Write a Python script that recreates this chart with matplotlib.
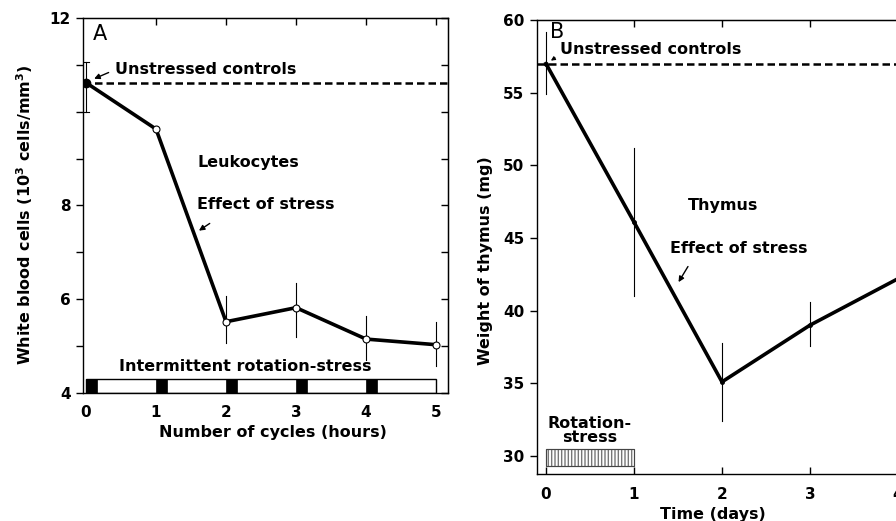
import matplotlib
matplotlib.use("Agg")
import matplotlib.pyplot as plt
from matplotlib.patches import Rectangle

# ---------------- data ----------------
# Panel A: leukocytes
cycles = [0, 1, 2, 3, 4, 5]
wbc = [10.62, 9.63, 5.52, 5.82, 5.15, 5.03]
wbc_err_lo = [10.0, 9.63, 5.07, 5.2, 4.7, 4.58]
wbc_err_hi = [11.06, 9.63, 6.07, 6.35, 5.65, 5.52]
wbc_control = 10.62
stress_starts = [0, 1, 2, 3, 4]
a_yticks = [4, 5, 6, 7, 8, 9, 10, 11, 12]
a_yticklabels = ["4", "", "6", "", "8", "", "", "", "12"]
a_xticks = [0, 1, 2, 3, 4, 5]

# Panel B: thymus
days = [0, 1, 2, 3, 4]
thymus = [57.0, 46.1, 35.1, 39.0, 42.2]
thy_err_lo = [54.9, 41.0, 32.4, 37.6, 42.2]
thy_err_hi = [59.2, 51.2, 37.8, 40.6, 42.2]
thy_control = 57.0
b_yticks = [30, 35, 40, 45, 50, 55, 60]
b_xticks = [0, 1, 2, 3, 4]

FONT = "DejaVu Sans"
plt.rcParams["font.family"] = FONT
plt.rcParams["font.weight"] = "bold"
FS = 11.5
TFS = 11

fig = plt.figure(figsize=(8.96, 5.21), dpi=100)

# ---------------- Panel A ----------------
axA = fig.add_axes([0.0926, 0.2457, 0.4074, 0.7198])
axA.set_xlim(-0.043, 5.17)
axA.set_ylim(4, 12)

# stress bar
axA.add_patch(Rectangle((0, 4.0), 5, 0.3, facecolor="white", edgecolor="k",
                        lw=1.0, zorder=2))
for s in stress_starts:
    axA.add_patch(Rectangle((s, 4.0), 0.16, 0.3, facecolor="k", edgecolor="k",
                            lw=0.5, zorder=3))

axA.axhline(wbc_control, color="k", lw=1.8, linestyle=(0, (3.0, 1.6)), zorder=3)
for i, x in enumerate(cycles):
    axA.plot([x, x], [wbc_err_lo[i], wbc_err_hi[i]], color="k", lw=0.8, zorder=4)
axA.plot([cycles[0] - 0.04, cycles[0] + 0.04], [wbc_err_lo[0]] * 2, color="k", lw=0.8)
axA.plot([cycles[0] - 0.04, cycles[0] + 0.04], [wbc_err_hi[0]] * 2, color="k", lw=0.8)
axA.plot(cycles, wbc, color="k", lw=2.6, zorder=5)
axA.plot(cycles[1:], wbc[1:], linestyle="none", marker="o", ms=5, mfc="white",
         mec="k", mew=0.8, zorder=6)
axA.plot(cycles[:1], wbc[:1], linestyle="none", marker="o", ms=6, mfc="k",
         mec="k", zorder=6)

txt = dict(fontsize=FS, fontweight="bold", family=FONT)
axA.text(0.1, 11.66, "A", fontsize=15, fontweight="normal", va="center", ha="left")
axA.text(0.41, 10.9, "Unstressed controls", va="center", ha="left", **txt)
axA.annotate("", xy=(0.08, 10.68), xytext=(0.36, 10.86),
             arrowprops=dict(arrowstyle="-|>", lw=1.0, color="k", mutation_scale=8))
axA.text(1.59, 8.92, "Leukocytes", va="center", ha="left", **txt)
axA.text(1.59, 8.02, "Effect of stress", va="center", ha="left", **txt)
axA.annotate("", xy=(1.58, 7.43), xytext=(1.8, 7.65),
             arrowprops=dict(arrowstyle="-|>", lw=1.0, color="k", mutation_scale=8))
axA.text(2.27, 4.56, "Intermittent rotation-stress", va="center", ha="center", **txt)

axA.set_yticks(a_yticks)
axA.set_yticklabels(a_yticklabels)
axA.set_xticks(a_xticks)
axA.tick_params(axis="y", direction="out", length=5, width=1, labelsize=TFS, pad=4)
axA.tick_params(axis="x", direction="out", length=0, labelsize=TFS, pad=9)
for lab in axA.get_xticklabels() + axA.get_yticklabels():
    lab.set_fontweight("bold")
secA_r = axA.secondary_yaxis("right")
secA_r.set_yticks(a_yticks)
secA_r.tick_params(direction="in", length=5, width=1, labelright=False)
secA_t = axA.secondary_xaxis("top")
secA_t.set_xticks(a_xticks[1:])
secA_t.tick_params(direction="in", length=5, width=1, labeltop=False)
for sp in axA.spines.values():
    sp.set_linewidth(1.0)

fig.text(25 / 896, 0.589, "White blood cells (10$^3$ cells/mm$^3$)", rotation=90,
         ha="center", va="center", fontsize=FS, fontweight="bold")
fig.text(0.305, 0.169, "Number of cycles (hours)", ha="center", va="center",
         fontsize=FS, fontweight="bold")

# ---------------- Panel B ----------------
axB = fig.add_axes([0.5993, 0.0902, 0.4324, 0.8714])
axB.set_xlim(-0.102, 4.3)
axB.set_ylim(28.76, 60)

axB.add_patch(Rectangle((0, 29.3), 1, 1.2, facecolor="white", edgecolor="#777777",
                        hatch="|||||", lw=0.8, zorder=2))
axB.add_patch(Rectangle((0, 29.3), 1, 1.2, facecolor="none", edgecolor="#444444",
                        lw=0.8, zorder=3))
axB.axhline(thy_control, color="k", lw=1.8, linestyle=(0, (3.0, 1.6)), zorder=3)
for i, x in enumerate(days):
    axB.plot([x, x], [thy_err_lo[i], thy_err_hi[i]], color="k", lw=0.8, zorder=4)
axB.plot(days, thymus, color="k", lw=2.6, zorder=5)
axB.plot(days, thymus, linestyle="none", marker="o", ms=2.5, mfc="k", mec="k", zorder=6)

axB.text(0.05, 59.17, "B", fontsize=15, fontweight="normal", va="center", ha="left")
axB.text(0.16, 58.0, "Unstressed controls", va="center", ha="left", **txt)
axB.annotate("", xy=(0.03, 57.1), xytext=(0.13, 57.5),
             arrowprops=dict(arrowstyle="-|>", lw=0.8, color="k", mutation_scale=6))
axB.text(1.61, 47.27, "Thymus", va="center", ha="left", **txt)
axB.text(1.41, 44.3, "Effect of stress", va="center", ha="left", **txt)
axB.annotate("", xy=(1.49, 41.8), xytext=(1.63, 43.2),
             arrowprops=dict(arrowstyle="-|>", lw=1.0, color="k", mutation_scale=8))
axB.text(0.5, 31.75, "Rotation-\nstress", va="center", ha="center",
         linespacing=0.95, **txt)

axB.set_yticks(b_yticks)
axB.set_xticks(b_xticks)
axB.tick_params(axis="y", direction="out", length=5, width=1, labelsize=TFS, pad=4)
axB.tick_params(axis="x", direction="in", length=5, width=1, labelsize=TFS, pad=9)
for lab in axB.get_xticklabels() + axB.get_yticklabels():
    lab.set_fontweight("bold")
secB_t = axB.secondary_xaxis("top")
secB_t.set_xticks(b_xticks[1:])
secB_t.tick_params(direction="in", length=5, width=1, labeltop=False)
for sp in axB.spines.values():
    sp.set_linewidth(1.0)

fig.text(485 / 896, 0.499, "Weight of thymus (mg)", rotation=90, ha="center",
         va="center", fontsize=FS, fontweight="bold")
fig.text(0.796, 0.0125, "Time (days)", ha="center", va="center",
         fontsize=FS, fontweight="bold")

fig.savefig("out.png", dpi=100)
